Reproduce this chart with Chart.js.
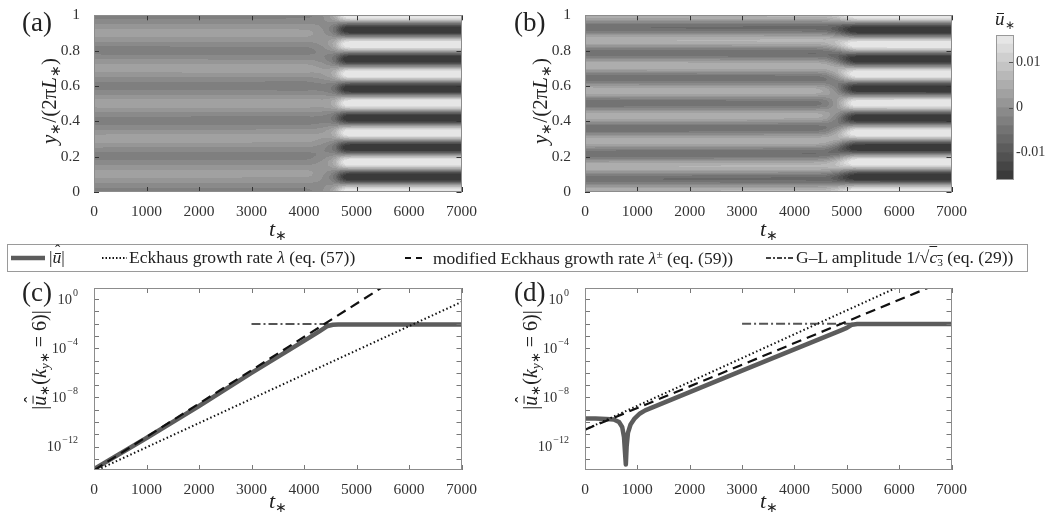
<!DOCTYPE html>
<html>
<head>
<meta charset="utf-8">
<script src="https://cdn.jsdelivr.net/npm/chart.js@4.4.0/dist/chart.umd.min.js"></script>
<style>
  body { margin: 0; width: 1052px; height: 518px; background: #fff; position: relative; overflow: hidden;
         font-family: "Liberation Serif", serif; color: #222; }
  canvas { position: absolute; }
  .txt { position: absolute; white-space: nowrap; line-height: 1; }
  .panel { font-size: 27px; }
  .axt { font-size: 22px; transform: translate(-50%, -50%); }
  .rot { transform: translate(-50%, -50%) rotate(-90deg); }
  sub { font-size: 0.65em; vertical-align: -0.3em; }
  sup { font-size: 0.65em; vertical-align: 0.55em; }
  .uh { position: relative; display: inline-block; font-style: italic; }
  .uh .bar { position: absolute; left: 0.12em; right: 0.02em; top: 0.2em; border-top: 1px solid currentColor; }
  .uh .hat { position: absolute; left: 0.16em; top: -0.38em; font-style: normal; font-size: 0.9em; }
  #legend { position: absolute; left: 7px; top: 244px; width: 1019px; height: 26px; border: 1px solid #9a9a9a; }
  .leg { font-size: 17.5px; top: 249px; }
  svg { position: absolute; }
</style>
</head>
<body>
<canvas id="ca" width="480" height="240" style="left:0;top:0"></canvas>
<canvas id="cb" width="480" height="240" style="left:490px;top:0"></canvas>
<canvas id="cbar" width="92" height="175" style="left:960px;top:20px"></canvas>
<canvas id="cc" width="480" height="248" style="left:0;top:270px"></canvas>
<canvas id="cd" width="480" height="248" style="left:490px;top:270px"></canvas>

<div class="txt panel" style="left:22px;top:9px">(a)</div>
<div class="txt panel" style="left:514px;top:9px">(b)</div>
<div class="txt panel" style="left:22px;top:279px">(c)</div>
<div class="txt panel" style="left:514px;top:279px">(d)</div>

<div class="txt axt" style="left:278px;top:230px"><i>t</i><sub>∗</sub></div>
<div class="txt axt" style="left:769px;top:230px"><i>t</i><sub>∗</sub></div>
<div class="txt axt" style="left:278px;top:502px"><i>t</i><sub>∗</sub></div>
<div class="txt axt" style="left:769px;top:502px"><i>t</i><sub>∗</sub></div>
<div class="txt axt rot" style="left:51px;top:101px;font-size:21px"><i>y</i><sub>∗</sub>/(2π<i>L</i><sub>∗</sub>)</div>
<div class="txt axt rot" style="left:542px;top:101px;font-size:21px"><i>y</i><sub>∗</sub>/(2π<i>L</i><sub>∗</sub>)</div>
<div class="txt axt rot" style="left:40px;top:360px;font-size:20px">|<span class="uh">u<span class="bar"></span><span class="hat">ˆ</span></span><sub>∗</sub>(<i>k</i><sub><i>y</i>∗</sub> = 6)|</div>
<div class="txt axt rot" style="left:531px;top:360px;font-size:20px">|<span class="uh">u<span class="bar"></span><span class="hat">ˆ</span></span><sub>∗</sub>(<i>k</i><sub><i>y</i>∗</sub> = 6)|</div>
<div class="txt" style="left:995px;top:9px;font-size:19px"><span class="uh">u<span class="bar"></span></span><sub>∗</sub></div>

<div id="legend"></div>
<svg width="1052" height="30" style="left:0;top:244px">
  <line x1="11" y1="14" x2="45" y2="14" stroke="#5c5c5c" stroke-width="4.5"/>
  <line x1="102" y1="14" x2="127" y2="14" stroke="#111" stroke-width="2" stroke-dasharray="1.5 2"/>
  <line x1="405" y1="14" x2="424" y2="14" stroke="#111" stroke-width="2.2" stroke-dasharray="6 5"/>
  <line x1="766" y1="14" x2="793" y2="14" stroke="#444" stroke-width="2" stroke-dasharray="5 2 2 2"/>
</svg>
<div class="txt leg" style="left:49px">|<span class="uh">u<span class="bar"></span><span class="hat">ˆ</span></span>|</div>
<div class="txt leg" style="left:129px">Eckhaus growth rate <i>λ</i> (eq. (57))</div>
<div class="txt leg" style="left:433px">modified Eckhaus growth rate <i>λ</i><sup>±</sup> (eq. (59))</div>
<div class="txt leg" style="left:796px">G–L amplitude 1/√<span style="text-decoration:overline"><i>c</i><sub>3</sub></span> (eq. (29))</div>

<script>
// ---- data ----
const tMax = 7000;
const yLabelExps = [0, -4, -8, -12];
const cbarTicks = [-0.01, 0, 0.01];
const levelMin = -0.016;
const levelStep = 0.002;
const nLevels = 16;

// (a) contour plot: amplitude of the initial 5-stripe pattern and of the final 6-stripe pattern
const earlyTimesA = [0, 4050, 4250, 4450, 4600, 4700];
const earlyAmpA = [0.0027, 0.0027, 0.002, 0.001, 0.0003, 0];
const lateTimesA = [0, 4150, 4350, 4500, 4600, 4700, 4800, 4900, 7000];
const lateAmpA = [0, 0.0003, 0.0012, 0.003, 0.006, 0.012, 0.0165, 0.0178, 0.0178];
// (b) initial 7-stripe pattern, final 6-stripe pattern
const earlyTimesB = [0, 4400, 4650, 4850, 5000, 5150];
const earlyAmpB = [0.0058, 0.0058, 0.005, 0.0035, 0.0015, 0];
const lateTimesB = [0, 4400, 4600, 4800, 4900, 5000, 5100, 5200, 7000];
const lateAmpB = [0, 0.0008, 0.0018, 0.0055, 0.009, 0.0125, 0.0155, 0.0175, 0.0178];

// (c) |u_hat(k=6)| and the model curves
const tSolidC = [0, 1000, 2000, 3000, 4000, 4300, 4450, 4550, 4650, 7000];
const uSolidC = [1.5e-14, 5.0e-12, 2.0e-9, 1.0e-6, 4.0e-4, 2.5e-3, 6.5e-3, 8.2e-3, 8.6e-3, 8.6e-3];
const tDashC = [0, 5600];
const uDashC = [1.2e-14, 18];
const tDotC = [0, 7000];
const uDotC = [9.5e-15, 0.58];
const tGLC = [3000, 7000];
const uGLC = [9.2e-3, 9.2e-3];

// (d)
const tSolidD = [0, 200, 400, 550, 650, 710, 745, 765, 780, 795, 820, 870, 950, 1050, 1150, 3000, 4900, 5000, 5100, 5200, 7000];
const uSolidD = [1.9e-10, 1.9e-10, 1.8e-10, 1.6e-10, 1.0e-10, 4e-11, 6e-12, 3e-13, 3.5e-14, 1e-12, 1.3e-11, 6.3e-11, 2e-10, 5e-10, 8.9e-10,
                 1.5e-6, 3.0e-3, 4.5e-3, 8.3e-3, 9.5e-3, 9.5e-3];
const tDashD = [0, 6700];
const uDashD = [2.4e-11, 14.8];
const tDotD = [0, 6000];
const uDotD = [2.4e-11, 10.5];
const tGLD = [3000, 7000];
const uGLD = [1.0e-2, 1.0e-2];

// ---- helpers ----
const FONT = '"Liberation Serif", serif';
const TICK_FONT = {family: FONT, size: 15.5};
const grays = Array.from({length: nLevels}, (_, i) => Math.round(58 + i * (230 - 58) / (nLevels - 1)));

function interp(ts, vs, t) {
  if (t <= ts[0]) return vs[0];
  for (let i = 1; i < ts.length; i++) {
    if (t <= ts[i]) return vs[i - 1] + (t - ts[i - 1]) / (ts[i] - ts[i - 1]) * (vs[i] - vs[i - 1]);
  }
  return vs[vs.length - 1];
}

// stripe field: initial mode (k stripes) fading out, k=6 mode growing in
function makeField(earlyT, earlyA, k, sign, lateT, lateA) {
  return (t, y) => {
    const a0 = interp(earlyT, earlyA, t);
    const a6 = interp(lateT, lateA, t);
    return sign * a0 * Math.cos(2 * Math.PI * k * y) + a6 * Math.cos(2 * Math.PI * 6 * y);
  };
}

function heatmapPlugin(field) {
  return {
    id: 'heatmap',
    beforeDatasetsDraw(chart) {
      const {ctx, chartArea: a, scales: {x, y}} = chart;
      const w = Math.round(a.right - a.left), h = Math.round(a.bottom - a.top);
      const img = ctx.createImageData(w, h);
      for (let i = 0; i < w; i++) {
        const t = x.getValueForPixel(a.left + i + 0.5);
        for (let j = 0; j < h; j++) {
          const v = field(t, y.getValueForPixel(a.top + j + 0.5));
          const lvl = Math.max(0, Math.min(nLevels - 1, Math.floor((v - levelMin) / levelStep)));
          const p = (j * w + i) * 4;
          img.data[p] = img.data[p + 1] = img.data[p + 2] = grays[lvl];
          img.data[p + 3] = 255;
        }
      }
      ctx.putImageData(img, Math.round(a.left), Math.round(a.top));
    }
  };
}

// box around the axes with inward ticks
function framePlugin(tickColor) {
  return {
    id: 'frame',
    afterDraw(chart) {
      const {ctx, chartArea: a, scales: {x, y}} = chart;
      ctx.save();
      ctx.strokeStyle = tickColor;
      ctx.lineWidth = 1;
      ctx.beginPath();
      x.ticks.forEach(tk => {
        const px = Math.round(x.getPixelForValue(tk.value)) + 0.5;
        ctx.moveTo(px, a.bottom); ctx.lineTo(px, a.bottom - 5);
        ctx.moveTo(px, a.top); ctx.lineTo(px, a.top + 5);
      });
      y.ticks.forEach(tk => {
        const py = Math.round(y.getPixelForValue(tk.value)) + 0.5;
        ctx.moveTo(a.left, py); ctx.lineTo(a.left + 5, py);
        ctx.moveTo(a.right, py); ctx.lineTo(a.right - 5, py);
      });
      ctx.stroke();
      ctx.strokeStyle = '#8c8c8c';
      ctx.strokeRect(Math.round(a.left) + 0.5, Math.round(a.top) + 0.5, Math.round(a.right - a.left) - 1, Math.round(a.bottom - a.top) - 1);
      ctx.restore();
    }
  };
}

const logLabels = {
  id: 'logLabels',
  afterDraw(chart) {
    const {ctx, chartArea: a, scales: {y}} = chart;
    ctx.save();
    ctx.fillStyle = '#333';
    ctx.textBaseline = 'middle';
    ctx.textAlign = 'right';
    yLabelExps.forEach(e => {
      const py = y.getPixelForValue(Math.pow(10, e));
      const exp = e === 0 ? '0' : '\u2212' + (-e);
      const right = a.left - 16;
      ctx.font = '10px ' + FONT;
      ctx.fillText(exp, right, py - 6);
      const ew = ctx.measureText(exp).width;
      ctx.font = '14.5px ' + FONT;
      ctx.fillText('10', right - ew - 1, py + 1);
    });
    ctx.restore();
  }
};

const xAxis = {
  type: 'linear', min: 0, max: tMax,
  ticks: {stepSize: 1000, padding: 3, maxRotation: 0, color: '#333', font: TICK_FONT, callback: v => String(v)},
  grid: {display: false}, border: {display: false},
  afterFit: s => { s.height = 48; }
};

function heatChart(id, yWidth, field) {
  return new Chart(document.getElementById(id), {
    type: 'scatter',
    data: {datasets: [{data: []}]},
    options: {
      responsive: false, animation: false, devicePixelRatio: 1,
      layout: {padding: {top: 13, right: 18, left: 0, bottom: 0}},
      plugins: {legend: {display: false}, tooltip: {enabled: false}},
      scales: {
        x: xAxis,
        y: {min: 0, max: 1,
            ticks: {stepSize: 0.2, padding: 6, color: '#333', font: TICK_FONT, callback: v => String(Math.round(v * 10) / 10)},
            grid: {display: false}, border: {display: false},
            afterFit: s => { s.width = yWidth; }}
      }
    },
    plugins: [heatmapPlugin(field), framePlugin('#333')]
  });
}

function pts(ts, vs) { return ts.map((t, i) => ({x: t, y: vs[i]})); }

function lineChart(id, yWidth, solid, dash, dot, gl) {
  return new Chart(document.getElementById(id), {
    type: 'line',
    data: {
      datasets: [
        {label: 'modified Eckhaus', data: pts(...dash), borderColor: '#111', borderWidth: 2.2, borderDash: [10, 6]},
        {label: 'Eckhaus', data: pts(...dot), borderColor: '#111', borderWidth: 2, borderDash: [1.5, 2.5]},
        {label: '|u|', data: pts(...solid), borderColor: '#5c5c5c', borderWidth: 4.5, borderJoinStyle: 'round'},
        {label: 'G-L', data: pts(...gl), borderColor: '#555', borderWidth: 2, borderDash: [9, 3, 2, 3]}
      ]
    },
    options: {
      responsive: false, animation: false, devicePixelRatio: 1,
      layout: {padding: {top: 18, right: 18, left: 0, bottom: 0}},
      elements: {point: {radius: 0}, line: {tension: 0}},
      plugins: {legend: {display: false}, tooltip: {enabled: false}},
      scales: {
        x: xAxis,
        y: {type: 'logarithmic', min: Math.pow(10, -13.9), max: Math.pow(10, 0.9),
            ticks: {display: false},
            afterBuildTicks: s => {
              s.ticks = [];
              for (let e = -13; e <= 0; e++) s.ticks.push({value: Math.pow(10, e)});
            },
            grid: {display: false}, border: {display: false},
            afterFit: s => { s.width = yWidth; }}
      }
    },
    plugins: [framePlugin('#777'), logLabels]
  });
}

heatChart('ca', 94, makeField(earlyTimesA, earlyAmpA, 5, -1, lateTimesA, lateAmpA));
heatChart('cb', 95, makeField(earlyTimesB, earlyAmpB, 7, 1, lateTimesB, lateAmpB));
lineChart('cc', 94, [tSolidC, uSolidC], [tDashC, uDashC], [tDotC, uDotC], [tGLC, uGLC]);
lineChart('cd', 95, [tSolidD, uSolidD], [tDashD, uDashD], [tDotD, uDotD], [tGLD, uGLD]);

// colour bar: one floating bar per contour level
new Chart(document.getElementById('cbar'), {
  type: 'bar',
  data: {
    labels: ['u'],
    datasets: grays.map((g, i) => ({
      data: [[levelMin + i * levelStep, levelMin + (i + 1) * levelStep]],
      backgroundColor: `rgb(${g},${g},${g})`, borderWidth: 0,
      grouped: false, barPercentage: 1, categoryPercentage: 1
    }))
  },
  options: {
    responsive: false, animation: false, devicePixelRatio: 1,
    layout: {padding: {top: 15, bottom: 15, left: 36, right: 0}},
    plugins: {legend: {display: false}, tooltip: {enabled: false}},
    scales: {
      x: {display: false},
      y: {position: 'right', min: levelMin, max: -levelMin,
          afterBuildTicks: s => { s.ticks = cbarTicks.map(v => ({value: v})); },
          ticks: {padding: 2, color: '#333', font: {family: FONT, size: 14}, callback: v => String(v)},
          grid: {display: false, drawTicks: false}, border: {display: false},
          afterFit: s => { s.width = 38; }}
    }
  },
  plugins: [{
    id: 'cbarFrame',
    afterDraw(chart) {
      const {ctx, chartArea: a, scales: {y}} = chart;
      ctx.save();
      ctx.strokeStyle = '#555';
      ctx.beginPath();
      cbarTicks.forEach(v => {
        const py = Math.round(y.getPixelForValue(v)) + 0.5;
        ctx.moveTo(a.right, py); ctx.lineTo(a.right - 5, py);
      });
      ctx.stroke();
      ctx.strokeStyle = '#999';
      ctx.strokeRect(Math.round(a.left) + 0.5, Math.round(a.top) + 0.5, Math.round(a.right - a.left) - 1, Math.round(a.bottom - a.top) - 1);
      ctx.restore();
    }
  }]
});
</script>
</body>
</html>
